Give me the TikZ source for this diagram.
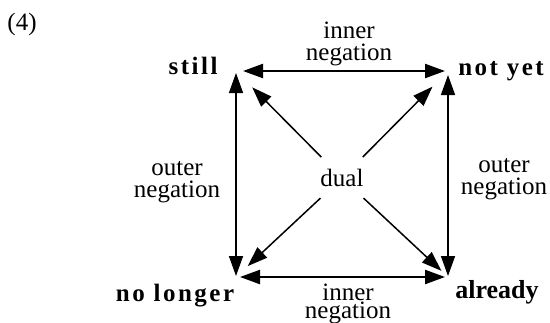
\documentclass[tikz,border=0pt]{standalone}
\usepackage{fontspec}
\setmainfont{Liberation Serif}
\newfontfamily\polefam[LetterSpace=10]{Liberation Serif}
\usepackage{tikz}
\usetikzlibrary{arrows.meta}
\newcommand\glossfont{\fontsize{12.5}{11}\selectfont}
\newcommand\polefont{\polefam\bfseries\fontsize{12.5}{14}\selectfont}
\tikzset{
  pole/.style={anchor=base,inner sep=0pt,font=\polefont},
  gloss/.style={align=center,inner sep=0pt,font=\glossfont},
  relation/.style={{Triangle[length=10pt,width=7pt]}-{Triangle[length=10pt,width=7pt]},line width=0.75pt},
  negline/.style={relation,line width=1.15pt},
  dualflow/.style={-{Triangle[length=10pt,width=7pt]},line width=0.75pt},
  hub/.style={circle,minimum size=29pt,inner sep=0pt,font=\glossfont}
}

\begin{document}
\begin{tikzpicture}[x=0.5pt,y=-0.5pt]
  \useasboundingbox (0,0) rectangle (550,322);
  \node[anchor=base,inner sep=0pt,font=\glossfont] (num) at (22,30) {(4)};
  % corners of the square
  \coordinate (tl) at (236,71);
  \coordinate (tr) at (448,71);
  \coordinate (bl) at (236,277);
  \coordinate (br) at (448,277);
  \node[pole] (still) at (193,74) {still};
  \node[pole] (notyet) at (501,75) {not yet};
  \node[pole] (nolonger) at (175,301) {no longer};
  \node[pole,font=\fontsize{13}{14}\selectfont\bfseries] (already) at (497,298) {already};
  \node[hub] (dual) at (342,178) {dual};
  % inner and outer negation
  \draw[negline,shorten <=3.5pt,shorten >=1.5pt] (tl) -- (tr);
  \draw[negline,shorten <=2pt,shorten >=1.5pt] (bl) -- (br);
  \draw[relation,shorten <=1pt,shorten >=0.5pt] (tl) -- (bl);
  \draw[relation,shorten <=2pt,shorten >=0.5pt] (tr) -- (br);
  \node[gloss] (innertop) at (349,44) {inner\\negation};
  \node[gloss,font=\fontsize{12.5}{9}\selectfont] (innerbot) at (348,304) {inner\\negation};
  \node[gloss] (outerleft) at (177,182) {outer\\negation};
  \node[gloss] (outerright) at (504,179) {outer\\negation};
  % duals
  \draw[dualflow,shorten >=11.5pt] (dual) -- (tl);
  \draw[dualflow,shorten >=11pt] (dual) -- (tr);
  \draw[dualflow,shorten >=4.5pt] (dual) -- (br);
  \draw[dualflow,shorten >=8pt] (dual) -- (bl);
\end{tikzpicture}
\end{document}
